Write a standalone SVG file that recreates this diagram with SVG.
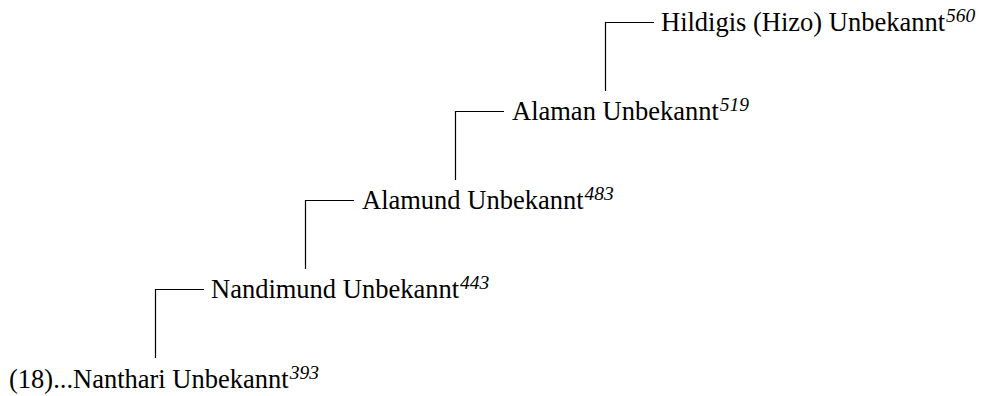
<svg xmlns="http://www.w3.org/2000/svg" width="983" height="396" viewBox="0 0 983 396">
<style>
.t{font-family:"Liberation Serif","Times New Roman",serif;font-size:26.5px;fill:#000}
.s{font-size:19.5px;font-style:italic}
.c{stroke:#000;stroke-width:1.2;fill:none}
</style>
<rect width="983" height="396" fill="#fff"/>
<g id="connectors">
<path class="c" d="M605.5,91 V22.5 H654"/>
<path class="c" d="M455.5,180 V111.5 H504"/>
<path class="c" d="M305.5,269 V200.5 H354"/>
<path class="c" d="M155.5,358 V289.5 H204"/>
</g>
<g id="n560"><text class="t" x="661" y="31">Hildigis (Hizo) Unbekannt<tspan class="s" dx="1" dy="-9">560</tspan></text></g>
<g id="n519"><text class="t" x="512" y="120">Alaman Unbekannt<tspan class="s" dx="1" dy="-9">519</tspan></text></g>
<g id="n483"><text class="t" x="362" y="209">Alamund Unbekannt<tspan class="s" dx="1" dy="-9">483</tspan></text></g>
<g id="n443"><text class="t" x="211" y="298">Nandimund Unbekannt<tspan class="s" dx="1" dy="-9">443</tspan></text></g>
<g id="n393"><text class="t" x="9" y="388">(18)...Nanthari Unbekannt<tspan class="s" dx="1" dy="-9">393</tspan></text></g>
</svg>
